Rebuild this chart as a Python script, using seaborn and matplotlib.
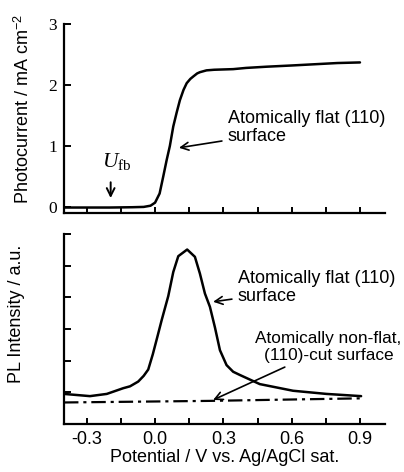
import numpy as np
import pandas as pd
import matplotlib
matplotlib.use("Agg")
import matplotlib.pyplot as plt
import seaborn as sns

# ---- data ----
pc_potential = [-0.40, -0.30, -0.20, -0.10, -0.05, -0.02, 0.00, 0.02, 0.036, 0.051,
                0.065, 0.08, 0.095, 0.109, 0.125, 0.139, 0.155, 0.168, 0.185, 0.197,
                0.226, 0.26, 0.343, 0.40, 0.49, 0.60, 0.70, 0.80, 0.90]
pc_current = [-0.01, -0.01, -0.01, -0.005, 0.0, 0.02, 0.07, 0.22, 0.50, 0.77,
              1.00, 1.32, 1.55, 1.75, 1.92, 2.03, 2.10, 2.14, 2.19, 2.21,
              2.24, 2.25, 2.26, 2.28, 2.30, 2.32, 2.34, 2.36, 2.37]

pl_potential = [-0.40, -0.286, -0.212, -0.14, -0.11, -0.074, -0.05, -0.03, -0.01,
                0.01, 0.029, 0.058, 0.08, 0.102, 0.141, 0.175, 0.197, 0.219, 0.241,
                0.263, 0.285, 0.314, 0.343, 0.372, 0.46, 0.606, 0.753, 0.905]
pl_flat = [0.95, 0.88, 0.95, 1.13, 1.19, 1.34, 1.52, 1.72, 2.20,
           2.75, 3.28, 4.04, 4.80, 5.30, 5.51, 5.28, 4.75, 4.12, 3.70,
           3.05, 2.33, 1.86, 1.65, 1.55, 1.26, 1.05, 0.95, 0.88]
nf_potential = [-0.40, 0.24, 0.90]
pl_nonflat = [0.68, 0.73, 0.81]

x_ticks = [-0.3, -0.15, 0.0, 0.15, 0.3, 0.45, 0.6, 0.75, 0.9]
x_labels = ["-0.3", "", "0.0", "", "0.3", "", "0.6", "", "0.9"]
pc_yticks = [0, 1, 2, 3]
pl_yticks = [1, 2, 3, 4, 5, 6]

sns.set_style("ticks")
plt.rcParams['font.family'] = ['Liberation Sans', 'DejaVu Sans']
plt.rcParams['mathtext.fontset'] = 'custom'
plt.rcParams['mathtext.rm'] = 'Liberation Serif'
plt.rcParams['mathtext.it'] = 'Liberation Serif:italic'
plt.rcParams['mathtext.sf'] = 'Liberation Sans'
for k in ('text.color', 'axes.labelcolor', 'xtick.color', 'ytick.color', 'axes.edgecolor'):
    plt.rcParams[k] = 'black'

FS = 13

fig = plt.figure(figsize=(4.04, 4.72), dpi=100)
ax1 = fig.add_axes([0.1584, 0.5487, 0.7946, 0.4004])
ax2 = fig.add_axes([0.1584, 0.1017, 0.7946, 0.4025])

df_pc = pd.DataFrame({"V": pc_potential, "I": pc_current})
df_pl = pd.DataFrame({"V": pl_potential, "PL": pl_flat})
df_nf = pd.DataFrame({"V": nf_potential, "PL": pl_nonflat})

sns.lineplot(data=df_pc, x="V", y="I", ax=ax1, color="black", lw=1.8, sort=True)
sns.lineplot(data=df_pl, x="V", y="PL", ax=ax2, color="black", lw=1.8, sort=True)
sns.lineplot(data=df_nf, x="V", y="PL", ax=ax2, color="black", lw=1.6,
             linestyle=(0, (6.5, 2.2, 1.4, 2.2)))

for ax in (ax1, ax2):
    sns.despine(ax=ax)
    ax.set_xlim(-0.4, 1.01)
    for s in ("left", "bottom"):
        ax.spines[s].set_linewidth(1.6)
        ax.spines[s].set_color("black")
    ax.set_xticks(x_ticks)
    ax.tick_params(axis="x", direction="in", length=4, width=1.4, colors="black")
    ax.tick_params(axis="y", direction="in", length=5, width=1.4, colors="black")

ax1.set_ylim(-0.1, 3.0)
ax1.set_yticks(pc_yticks)
ax1.set_yticklabels([str(v) for v in pc_yticks], fontfamily="Liberation Serif", fontsize=12.5)
ax1.tick_params(axis="y", pad=5)
ax1.set_xticklabels([])
ax1.set_xlabel("")
ax1.set_ylabel(r"Photocurrent / mA cm$^{\mathsf{-2}}$", fontsize=FS)
ax1.yaxis.set_label_coords(-0.097, 0.55)

ax2.set_ylim(0, 6)
ax2.set_yticks(pl_yticks)
ax2.set_yticklabels([])
ax2.set_xticklabels(x_labels, fontsize=FS)
ax2.tick_params(axis="x", pad=5)
ax2.set_xlabel("Potential / V vs. Ag/AgCl sat.", fontsize=FS, labelpad=1)
ax2.set_ylabel("PL Intensity / a.u.", fontsize=FS)
ax2.yaxis.set_label_coords(-0.12, 0.58)

arrow = dict(arrowstyle="->", color="black", lw=1.2, mutation_scale=14, shrinkA=2, shrinkB=0)

# top annotations
ax1.annotate("Atomically flat (110)\nsurface", xy=(0.105, 0.97), xytext=(0.32, 1.30),
             fontsize=FS, ha="left", va="center", arrowprops=arrow, linespacing=1.1)
ax1.annotate("", xy=(-0.195, 0.10), xytext=(-0.195, 0.45),
             arrowprops=dict(arrowstyle="->", color="black", lw=1.4, mutation_scale=14))
ax1.text(-0.168, 0.74, r"$U_{\mathrm{fb}}$", fontsize=15.5, ha="center", va="center")

# bottom annotations
ax2.annotate("Atomically flat (110)\nsurface", xy=(0.255, 3.86), xytext=(0.364, 4.32),
             fontsize=FS, ha="left", va="center", arrowprops=arrow, linespacing=1.1)
ax2.annotate("Atomically non-flat,\n(110)-cut surface", xy=(0.255, 0.76), xytext=(0.762, 2.43),
             fontsize=12.4, ha="center", va="center", arrowprops=arrow, linespacing=1.1)

fig.savefig("out.png", dpi=100)
